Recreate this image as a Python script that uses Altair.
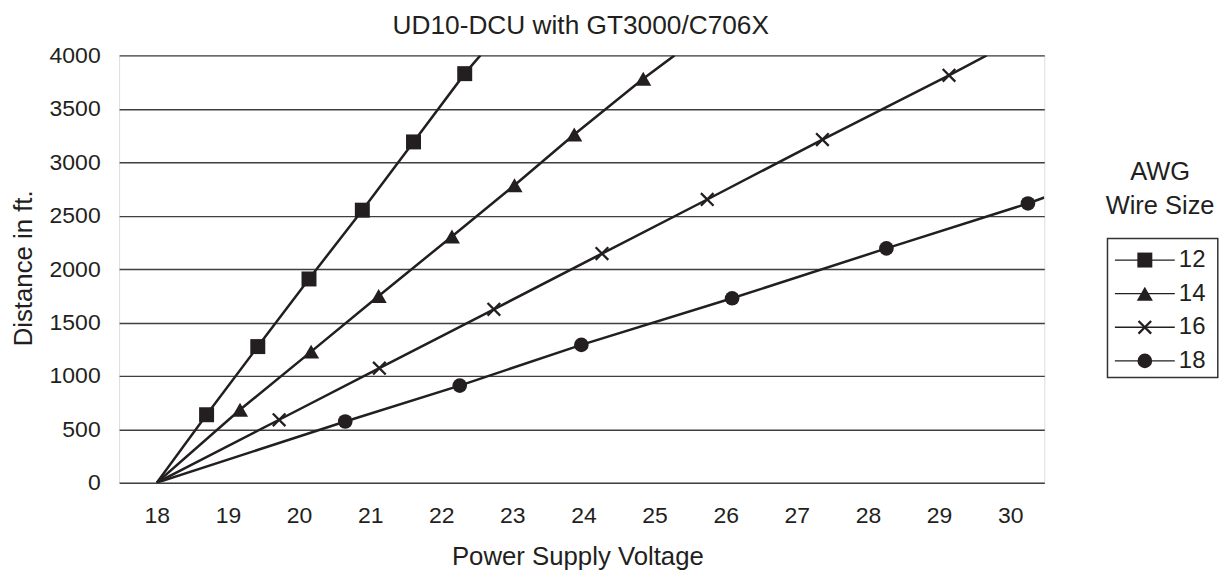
import altair as alt
import pandas as pd

# ---------------- data ----------------
awg_sizes = ["12", "14", "16", "18"]

volt_12 = [18.70, 19.42, 20.14, 20.89, 21.61, 22.33]
dist_12 = [636, 1274, 1907, 2551, 3190, 3829]

volt_14 = [19.17, 20.17, 21.12, 22.15, 23.03, 23.87, 24.84]
dist_14 = [682, 1227, 1748, 2305, 2785, 3259, 3782]

volt_16 = [19.72, 21.13, 22.74, 24.26, 25.74, 27.36, 29.14]
dist_16 = [589, 1072, 1623, 2145, 2651, 3212, 3813]

volt_18 = [20.65, 22.26, 23.97, 26.09, 28.26, 30.25]
dist_18 = [573, 909, 1290, 1726, 2193, 2614]

# all lines start at a common origin and run on to the frame edge
origin_volt = 18.0
origin_dist = 0
exit_volt = [22.55, 25.28, 29.67, 30.48]
exit_dist = [4000, 4000, 4000, 2670]

x_ticks = list(range(18, 31))
y_ticks = list(range(0, 4001, 500))

chart_title = "UD10-DCU with GT3000/C706X"
x_title = "Power Supply Voltage"
y_title = "Distance in ft."
legend_title = ["AWG", "Wire Size"]

# ---------------- tables ----------------
series_volt = [volt_12, volt_14, volt_16, volt_18]
series_dist = [dist_12, dist_14, dist_16, dist_18]

marker_rows = []
line_rows = []
for i, awg in enumerate(awg_sizes):
    line_rows.append({"awg": awg, "volt": origin_volt, "dist": origin_dist, "order": 0})
    for j, (v, d) in enumerate(zip(series_volt[i], series_dist[i])):
        marker_rows.append({"awg": awg, "volt": v, "dist": d})
        line_rows.append({"awg": awg, "volt": v, "dist": d, "order": j + 1})
    line_rows.append({"awg": awg, "volt": exit_volt[i], "dist": exit_dist[i],
                      "order": len(series_volt[i]) + 1})
marker_df = pd.DataFrame(marker_rows)
line_df = pd.DataFrame(line_rows)
legend_df = pd.DataFrame({"awg": awg_sizes})
one_row = pd.DataFrame({"k": [0]})

# ---------------- styles ----------------
INK = "#231f20"
FONT = "Liberation Sans"
W, H = 926.7, 428

MARKER_STYLE = {
    "12": dict(shape="square", size=225, filled=True, fill=INK, strokeWidth=0),
    "14": dict(shape="triangle-up", size=260, filled=True, fill=INK, strokeWidth=0),
    "16": dict(shape="M-1,-1L1,1M-1,1L1,-1", size=160, filled=False, stroke=INK, strokeWidth=2.3),
    "18": dict(shape="circle", size=215, filled=True, fill=INK, strokeWidth=0),
}

x_enc = alt.X(
    "volt:Q",
    scale=alt.Scale(domain=[17.47, 30.48], nice=False, zero=False),
    axis=alt.Axis(values=x_ticks, title=None, ticks=False, tickSize=0, domain=False,
                  grid=False, labelFontSize=23, labelPadding=22, labelFont=FONT,
                  labelColor=INK, labelFlush=False, format="d"),
)
y_enc = alt.Y(
    "dist:Q",
    scale=alt.Scale(domain=[0, 4000], nice=False),
    axis=alt.Axis(values=y_ticks, title=None, ticks=False, tickSize=0, domain=False,
                  grid=True, gridColor="#3f3f3f", gridWidth=1.4, labelFontSize=23,
                  labelPadding=19, labelFont=FONT, labelColor=INK, labelFlush=False,
                  format="d"),
)

lines = alt.Chart(line_df).mark_line(color=INK, strokeWidth=2.5, clip=True).encode(
    x=x_enc, y=y_enc, detail="awg:N", order="order:Q"
)

point_layers = []
for awg in awg_sizes:
    point_layers.append(
        alt.Chart(marker_df)
        .transform_filter(alt.datum.awg == awg)
        .mark_point(opacity=1, **MARKER_STYLE[awg])
        .encode(x=x_enc, y=y_enc)
    )

main = alt.layer(lines, *point_layers)

# ---------------- legend and titles ----------------
leg_y = alt.Y("awg:N", scale=alt.Scale(type="point", domain=awg_sizes, range=[205, 306], padding=0),
              axis=None)

legend_box = alt.Chart(one_row).mark_rect(fill="white", stroke="#333333", strokeWidth=1.5).encode(
    x=alt.value(990), x2=alt.value(1100.5), y=alt.value(183.3), y2=alt.value(322.7)
)
legend_rules = alt.Chart(legend_df).mark_rule(color=INK, strokeWidth=1.3).encode(
    x=alt.value(997.4), x2=alt.value(1057.4), y=leg_y
)
legend_syms = []
for awg in awg_sizes:
    legend_syms.append(
        alt.Chart(legend_df)
        .transform_filter(alt.datum.awg == awg)
        .mark_point(opacity=1, **MARKER_STYLE[awg])
        .encode(x=alt.value(1027.4), y=leg_y)
    )
legend_labels = alt.Chart(legend_df).mark_text(
    align="left", baseline="middle", fontSize=24, font=FONT, color=INK
).encode(x=alt.value(1061.5), y=leg_y, text="awg:N")

legend_head = alt.Chart(one_row).mark_text(
    align="center", baseline="alphabetic", fontSize=25.5, font=FONT, color=INK, lineHeight=34
).encode(x=alt.value(1042.7), y=alt.value(124.5), text=alt.value(legend_title))

title_mark = alt.Chart(one_row).mark_text(
    align="center", baseline="alphabetic", fontSize=26.3, font=FONT, color=INK
).encode(x=alt.value(462.4), y=alt.value(-21.7), text=alt.value(chart_title))

x_title_mark = alt.Chart(one_row).mark_text(
    align="center", baseline="alphabetic", fontSize=25.8, font=FONT, color=INK
).encode(x=alt.value(459.5), y=alt.value(510.5), text=alt.value(x_title))

y_title_mark = alt.Chart(one_row).mark_text(
    align="center", baseline="alphabetic", fontSize=25.8, font=FONT, color=INK, angle=270
).encode(x=alt.value(-87.6), y=alt.value(213.3), text=alt.value(y_title))

decor = alt.layer(legend_box, legend_rules, *legend_syms, legend_labels, legend_head,
                  title_mark, x_title_mark, y_title_mark)

chart = (
    alt.layer(main, decor)
    .resolve_scale(y="independent")
    .properties(
        width=W,
        height=H,
        padding={"left": 111.3, "top": 47, "right": 176, "bottom": 88},
        autosize=alt.AutoSizeParams(type="none"),
    )
    .configure_view(stroke="#3a3a3a", strokeWidth=1.8)
    .configure(font=FONT)
)

chart.save("out.html", embed_options={"renderer": "svg", "actions": False})
